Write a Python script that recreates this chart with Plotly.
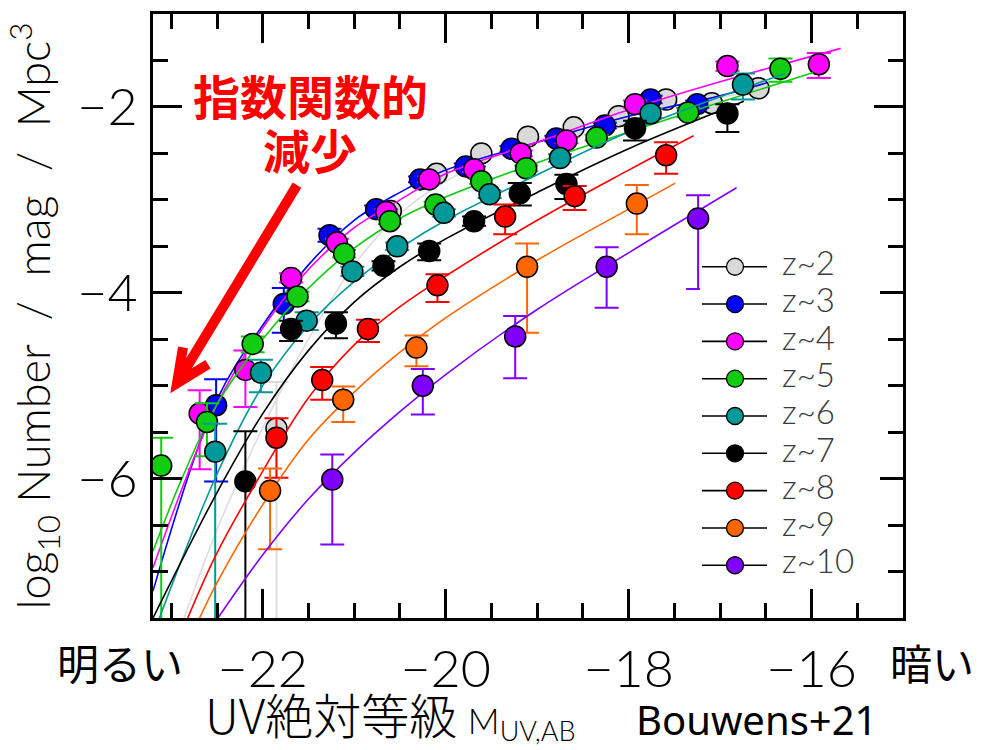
import plotly.graph_objects as go

# ---------------- data ----------------
labels = ["z~2", "z~3", "z~4", "z~5", "z~6", "z~7", "z~8", "z~9", "z~10"]
colors = ["#D9D9D9", "#0000FF", "#FF00FF", "#11CC11", "#009999",
          "#000000", "#FF0000", "#FF6600", "#7F00FF"]
line_colors = ["#DDDDDD", "#0000FF", "#FF00FF", "#11CC11", "#009999",
               "#000000", "#FF0000", "#FF6600", "#7F00FF"]

# stepwise points: magnitude, log10 phi, +err, -err
z2_M = [-21.85, -20.60, -20.10, -19.61, -19.10, -18.60, -18.11, -17.59, -17.09, -16.58]
z2_v = [-5.46, -3.12, -2.72, -2.50, -2.32, -2.22, -2.10, -1.92, -1.96, -1.80]
z2_ep = [0.50, 0.04, 0.03, 0.03, 0.03, 0.03, 0.03, 0.03, 0.03, 0.04]
z2_em = [3.00, 0.04, 0.03, 0.03, 0.03, 0.03, 0.03, 0.03, 0.03, 0.04]

z3_M = [-22.51, -21.77, -21.27, -20.76, -20.28, -19.78, -19.28, -18.79, -18.26, -17.76, -17.25]
z3_v = [-5.21, -4.12, -3.38, -3.10, -2.78, -2.64, -2.45, -2.34, -2.20, -1.92, -1.97]
z3_ep = [0.28, 0.17, 0.07, 0.04, 0.03, 0.03, 0.03, 0.03, 0.03, 0.04, 0.04]
z3_em = [0.82, 0.31, 0.07, 0.04, 0.03, 0.03, 0.03, 0.03, 0.03, 0.04, 0.04]

z4_M = [-22.69, -22.19, -21.69, -21.19, -20.65, -20.18, -19.69, -19.18, -18.68, -17.93, -16.92, -15.92]
z4_v = [-5.30, -4.83, -3.84, -3.46, -3.13, -2.78, -2.67, -2.50, -2.36, -1.97, -1.56, -1.54]
z4_ep = [0.25, 0.21, 0.05, 0.04, 0.03, 0.03, 0.03, 0.03, 0.03, 0.04, 0.05, 0.12]
z4_em = [0.60, 0.40, 0.05, 0.04, 0.03, 0.03, 0.03, 0.03, 0.03, 0.04, 0.05, 0.15]

z5_M = [-23.11, -22.61, -22.11, -21.62, -21.11, -20.61, -20.11, -19.61, -19.12, -18.35, -17.35, -16.34]
z5_v = [-5.86, -5.39, -4.55, -4.04, -3.58, -3.23, -3.05, -2.80, -2.66, -2.33, -2.06, -1.59]
z5_ep = [0.30, 0.20, 0.08, 0.05, 0.04, 0.03, 0.03, 0.03, 0.03, 0.03, 0.05, 0.11]
z5_em = [3.00, 0.37, 0.09, 0.05, 0.04, 0.03, 0.03, 0.03, 0.03, 0.03, 0.05, 0.14]

z6_M = [-22.52, -22.02, -21.52, -21.02, -20.53, -20.02, -19.52, -18.75, -17.76, -16.75]
z6_v = [-5.71, -4.86, -4.30, -3.77, -3.50, -3.14, -2.94, -2.55, -2.07, -1.76]
z6_ep = [0.30, 0.14, 0.09, 0.05, 0.04, 0.04, 0.04, 0.04, 0.05, 0.12]
z6_em = [3.00, 0.21, 0.10, 0.05, 0.04, 0.04, 0.04, 0.04, 0.05, 0.16]

z7_M = [-22.19, -21.69, -21.20, -20.68, -20.18, -19.69, -19.19, -18.68, -17.93, -16.92]
z7_v = [-6.03, -4.39, -4.33, -3.71, -3.55, -3.23, -2.93, -2.83, -2.23, -2.07]
z7_ep = [0.54, 0.09, 0.12, 0.05, 0.08, 0.05, 0.11, 0.10, 0.08, 0.10]
z7_em = [3.00, 0.13, 0.16, 0.05, 0.10, 0.05, 0.13, 0.16, 0.13, 0.20]

z8_M = [-21.85, -21.35, -20.85, -20.09, -19.35, -18.59, -17.59]
z8_v = [-5.56, -4.94, -4.39, -3.92, -3.18, -2.96, -2.52]
z8_ep = [0.21, 0.14, 0.10, 0.12, 0.13, 0.11, 0.14]
z8_em = [0.43, 0.21, 0.14, 0.18, 0.19, 0.15, 0.20]

z9_M = [-21.92, -21.12, -20.32, -19.11, -17.91]
z9_v = [-6.13, -5.15, -4.59, -3.72, -3.04]
z9_ep = [0.24, 0.14, 0.13, 0.25, 0.20]
z9_em = [0.63, 0.24, 0.20, 0.71, 0.33]

z10_M = [-21.24, -20.25, -19.24, -18.24, -17.24]
z10_v = [-6.01, -5.00, -4.47, -3.72, -3.20]
z10_ep = [0.27, 0.18, 0.22, 0.21, 0.25]
z10_em = [0.70, 0.31, 0.45, 0.44, 0.76]

# fitted curves
c2_M = [-22.86, -22.5, -22.0, -21.5, -21.0, -20.5, -20.0, -19.0, -18.0, -17.0, -16.5]
c2_v = [-7.5, -6.55, -5.45, -4.5, -3.7, -3.15, -2.8, -2.36, -2.08, -1.9, -1.8]
c3_M = [-23.2, -22.5, -22.0, -21.5, -21.0, -20.5, -20.0, -19.0, -18.0, -17.0, -16.49]
c3_v = [-7.21, -5.15, -4.35, -3.7, -3.22, -2.92, -2.68, -2.38, -2.1, -1.88, -1.74]
c4_M = [-23.2, -22.5, -22.0, -21.5, -21.0, -20.5, -20.0, -19.0, -18.0, -17.0, -15.68]
c4_v = [-6.96, -5.2, -4.38, -3.75, -3.3, -3.0, -2.72, -2.38, -2.03, -1.73, -1.37]
c5_M = [-23.2, -22.88, -22.5, -22.0, -21.5, -21.0, -20.5, -20.0, -19.0, -18.0, -17.0, -15.98]
c5_v = [-6.78, -5.99, -5.2, -4.5, -3.95, -3.52, -3.2, -2.97, -2.6, -2.27, -1.95, -1.63]
c6_M = [-23.13, -22.5, -22.0, -21.5, -21.0, -20.5, -20.0, -19.0, -18.0, -16.29]
c6_v = [-7.5, -5.95, -5.0, -4.35, -3.88, -3.52, -3.22, -2.73, -2.27, -1.64]
c7_M = [-23.2, -22.5, -22.0, -21.5, -21.0, -20.5, -20.0, -19.0, -18.0, -16.74]
c7_v = [-7.5, -6.15, -5.3, -4.62, -4.1, -3.72, -3.42, -2.92, -2.45, -1.94]
c8_M = [-22.82, -22.5, -22.0, -21.5, -21.0, -20.5, -20.0, -19.0, -18.0, -17.29]
c8_v = [-7.5, -6.8, -5.92, -5.13, -4.56, -4.15, -3.82, -3.22, -2.68, -2.31]
c9_M = [-22.69, -22.5, -22.0, -21.5, -21.0, -20.5, -20.0, -19.0, -18.0, -17.49]
c9_v = [-7.5, -7.12, -6.28, -5.58, -5.07, -4.64, -4.27, -3.65, -3.10, -2.82]
c10_M = [-22.49, -22.0, -21.5, -21.0, -20.5, -20.0, -19.0, -18.0, -16.82]
c10_v = [-7.5, -6.82, -6.22, -5.72, -5.28, -4.88, -4.18, -3.57, -2.87]

points = [(z2_M, z2_v, z2_ep, z2_em), (z3_M, z3_v, z3_ep, z3_em), (z4_M, z4_v, z4_ep, z4_em),
          (z5_M, z5_v, z5_ep, z5_em), (z6_M, z6_v, z6_ep, z6_em), (z7_M, z7_v, z7_ep, z7_em),
          (z8_M, z8_v, z8_ep, z8_em), (z9_M, z9_v, z9_ep, z9_em), (z10_M, z10_v, z10_ep, z10_em)]
curves = [(c2_M, c2_v), (c3_M, c3_v), (c4_M, c4_v), (c5_M, c5_v), (c6_M, c6_v),
          (c7_M, c7_v), (c8_M, c8_v), (c9_M, c9_v), (c10_M, c10_v)]

x_range = [-23.2, -15.0]
y_range = [-7.5, -1.0]

# ---------------- layout geometry ----------------
W, H = 990, 750
L, R, T, B = 153, 87, 11, 132
PW, PH = W - L - R, H - T - B


def px(xp):
    return (xp - L) / PW


def py(yp):
    return (H - B - yp) / PH


LIGHT = "Lato"
fig = go.Figure()

for i in range(len(labels)):
    cm, cv = curves[i]
    fig.add_trace(go.Scatter(x=cm, y=cv, mode="lines", line=dict(color=line_colors[i], width=1.6, shape="spline"),
                             showlegend=False, hoverinfo="skip", cliponaxis=True))
    m, v, ep, em = points[i]
    fig.add_trace(go.Scatter(
        x=m, y=v, mode="markers", name=labels[i], showlegend=False, cliponaxis=True,
        marker=dict(size=21, color=colors[i], line=dict(color="black", width=1.5)),
        error_y=dict(type="data", symmetric=False, array=ep, arrayminus=em,
                     color=line_colors[i], thickness=2, width=12)))

# custom legend on its own little axes
leg_idx = list(range(len(labels)))
for i in leg_idx:
    fig.add_trace(go.Scatter(x=[2, 35, 67], y=[i, i, i], xaxis="x2", yaxis="y2", mode="lines",
                             line=dict(color="black", width=1.6), showlegend=False, hoverinfo="skip"))
    fig.add_trace(go.Scatter(x=[35], y=[i], xaxis="x2", yaxis="y2", mode="markers",
                             marker=dict(size=17, color=colors[i], line=dict(color="black", width=1.3)),
                             showlegend=False, hoverinfo="skip"))
fig.add_trace(go.Scatter(x=[82] * len(labels), y=leg_idx, text=labels, xaxis="x2", yaxis="y2",
                         mode="text", textposition="middle right",
                         textfont=dict(family=LIGHT, size=33, color="#3a3a3a", weight=300),
                         showlegend=False, hoverinfo="skip"))

axis_common = dict(showline=True, linecolor="black", linewidth=3, mirror="allticks",
                   ticks="inside", ticklen=29, tickwidth=3, tickcolor="black",
                   showgrid=False, zeroline=False,
                   tickfont=dict(family=LIGHT, size=52, color="black", weight=300),
                   minor=dict(ticks="inside", ticklen=15, tickwidth=3, tickcolor="black",
                              dtick=0.5, showgrid=False))

fig.update_layout(
    width=W, height=H, margin=dict(l=L, r=R, t=T, b=B),
    paper_bgcolor="white", plot_bgcolor="white", showlegend=False,
    xaxis=dict(range=x_range, tick0=-22, dtick=2, ticklabelstandoff=4, **axis_common),
    yaxis=dict(range=y_range, tick0=-2, dtick=2, ticklabelstandoff=2, **axis_common),
    xaxis2=dict(domain=[px(700), px(880)], range=[0, 180], anchor="y2", visible=False),
    yaxis2=dict(domain=[py(583.75), py(246.25)], range=[8.5, -0.5], anchor="x2", visible=False),
)

# arrow (decoration)
tip = (177, 382)
tail = (297, 183)
w1 = (183, 346)
w2 = (208, 363)
path = (f"M {px(tail[0])},{py(tail[1])} L {px(tip[0])},{py(tip[1])} "
        f"M {px(w1[0])},{py(w1[1])} L {px(tip[0])},{py(tip[1])} L {px(w2[0])},{py(w2[1])}")
fig.add_shape(type="path", xref="paper", yref="paper", path=path,
              line=dict(color="#FF0000", width=10))

ann = [
    dict(text="指数関数的", x=px(310), y=py(92), xanchor="center",
         font=dict(size=47, color="#FF0000", family="Noto Sans CJK JP", weight="bold")),
    dict(text="減少", x=px(310), y=py(146), xanchor="center",
         font=dict(size=47, color="#FF0000", family="Noto Sans CJK JP", weight="bold")),
    dict(text="明るい", x=px(120), y=py(662), xanchor="center",
         font=dict(size=42, color="black", family="Noto Sans CJK JP")),
    dict(text="暗い", x=px(932), y=py(662), xanchor="center",
         font=dict(size=42, color="black", family="Noto Sans CJK JP")),
    dict(text=("UV絶対等級 <span style='font-family:Lato;font-weight:300;font-size:35px'>M"
               "<sub><span style='font-size:27px'>UV,AB</span></sub></span>"),
         x=px(203), y=py(713), xanchor="left",
         font=dict(size=48, color="black", family="Noto Sans CJK JP", weight=300)),
    dict(text="Bouwens+21", x=px(756), y=py(720), xanchor="center",
         font=dict(size=40, color="black", family="Noto Sans")),
    dict(text="log<sub>10</sub> Number  /  mag  /  Mpc<sup>3</sup>", x=px(34), y=py(315), textangle=-90,
         xanchor="center", font=dict(size=45, color="black", family=LIGHT, weight=300)),
]
for a in ann:
    fig.add_annotation(xref="paper", yref="paper", showarrow=False, yanchor="middle", **a)

fig.write_html("out.html")
